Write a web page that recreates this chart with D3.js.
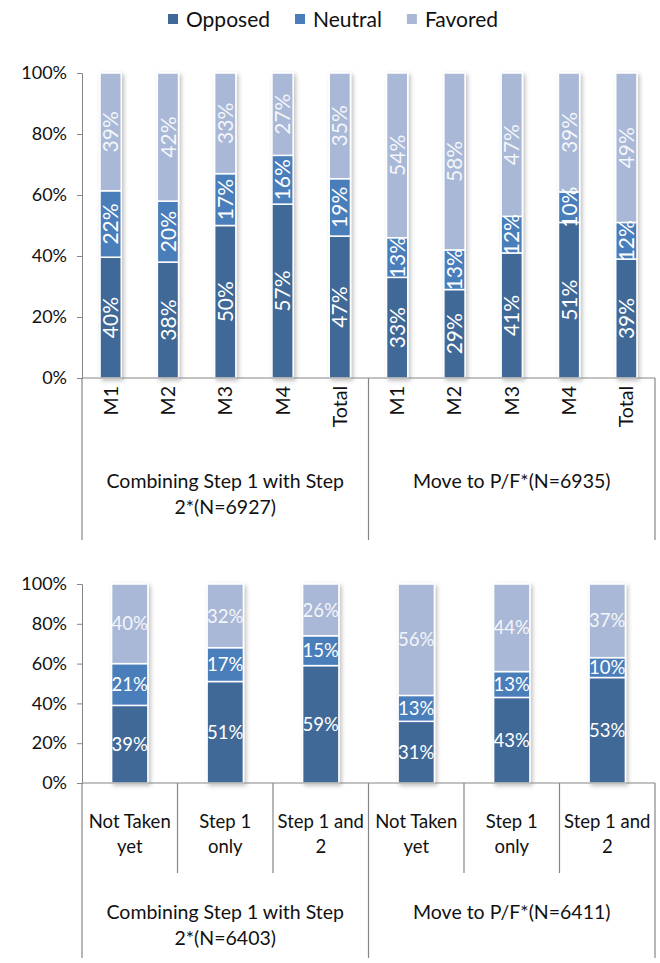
<!DOCTYPE html>
<html>
<head>
<meta charset="utf-8">
<script src="https://cdn.jsdelivr.net/npm/d3@7"></script>
<style>
  body { margin: 0; background: #fff; }
  svg { font-family: Lato, "Open Sans", sans-serif; }
</style>
</head>
<body>
<svg id="chart" width="660" height="963"></svg>
<script>
// series keys and colours
var keys = ["Opposed", "Neutral", "Favored"];
var colors = ["#416998", "#4a7ebb", "#a9b8d6"];
var labelColors = ["#ffffff", "#ffffff", "#f4f6fa"];

// top chart: by medical school year
var topGroups = [["Combining Step 1 with Step", "2*(N=6927)"], ["Move to P/F*(N=6935)"]];
var topCats = ["M1", "M2", "M3", "M4", "Total"];
var topOpposed = [40, 38, 50, 57, 47, 33, 29, 41, 51, 39];
var topNeutral = [22, 20, 17, 16, 19, 13, 13, 12, 10, 12];
var topFavored = [39, 42, 33, 27, 35, 54, 58, 47, 39, 49];

// bottom chart: by step status
var botGroups = [["Combining Step 1 with Step", "2*(N=6403)"], ["Move to P/F*(N=6411)"]];
var botCats = [["Not Taken", "yet"], ["Step 1", "only"], ["Step 1 and", "2"]];
var botOpposed = [39, 51, 59, 31, 43, 53];
var botNeutral = [21, 17, 15, 13, 13, 10];
var botFavored = [40, 32, 26, 56, 44, 37];

var yTicks = [0, 0.2, 0.4, 0.6, 0.8, 1];

var svg = d3.select("#chart");

// soft shadow like the Excel bars
var defs = svg.append("defs");
defs.append("filter").attr("id", "shadow")
    .attr("x", "-30%").attr("y", "-10%").attr("width", "160%").attr("height", "120%")
  .append("feDropShadow")
    .attr("dx", 2).attr("dy", 2).attr("stdDeviation", 2)
    .attr("flood-color", "#000").attr("flood-opacity", 0.25);

// legend
var legend = svg.append("g").attr("transform", "translate(168,0)");
var lx = 0;
keys.forEach(function(k, i) {
  legend.append("rect")
      .attr("x", lx).attr("y", 14).attr("width", 10).attr("height", 10)
      .attr("fill", colors[i]);
  var t = legend.append("text")
      .attr("x", lx + 18).attr("y", 27)
      .attr("font-size", 21).attr("fill", "#111")
      .text(k);
  lx += 18 + t.node().getComputedTextLength() + 25;
});

function drawChart(cfg) {
  var n = cfg.opposed.length;
  var rows = d3.range(n).map(function(i) {
    return {idx: i, Opposed: cfg.opposed[i], Neutral: cfg.neutral[i], Favored: cfg.favored[i]};
  });

  var x = d3.scaleBand().domain(d3.range(n)).range([cfg.left, cfg.right]);
  var y = d3.scaleLinear().domain([0, 1]).range([cfg.bottom, cfg.top]);
  var barW = x.bandwidth() * cfg.barRatio;

  var series = d3.stack().keys(keys).offset(d3.stackOffsetExpand)(rows);

  var g = svg.append("g");

  // y axis
  var yAxis = g.append("g")
      .attr("transform", "translate(" + cfg.left + ",0)")
      .call(d3.axisLeft(y).tickValues(yTicks).tickFormat(d3.format(".0%")).tickSize(5).tickPadding(10));
  yAxis.select(".domain").attr("stroke", "#868686");
  yAxis.selectAll(".tick line").attr("stroke", "#868686");
  yAxis.selectAll("text").attr("font-size", 18).attr("fill", "#111").attr("font-family", "Lato, sans-serif");

  // bars
  var layers = g.append("g").attr("filter", "url(#shadow)")
    .selectAll("g")
    .data(series)
    .enter().append("g")
      .attr("fill", function(d, i) { return colors[i]; });

  layers.selectAll("rect")
    .data(function(d) { return d; })
    .enter().append("rect")
      .attr("x", function(d) { return x(d.data.idx) + (x.bandwidth() - barW) / 2; })
      .attr("y", function(d) { return y(d[1]); })
      .attr("width", barW)
      .attr("height", function(d) { return y(d[0]) - y(d[1]); })
      .attr("stroke", "#fff")
      .attr("stroke-width", 1.5);

  // value labels
  series.forEach(function(s, si) {
    g.append("g").selectAll("text")
      .data(s)
      .enter().append("text")
        .attr("transform", function(d) {
          var cx = x(d.data.idx) + x.bandwidth() / 2;
          var cy = (y(d[0]) + y(d[1])) / 2;
          return "translate(" + cx + "," + cy + ")" + (cfg.rotate ? " rotate(-90)" : "");
        })
        .attr("text-anchor", "middle")
        .attr("dy", "0.36em")
        .attr("font-size", cfg.valueSize)
        .attr("fill", labelColors[si])
        .text(function(d) { return d.data[s.key] + "%"; });
  });

  // x axis line and group dividers
  var lines = g.append("g").attr("stroke", "#868686").attr("stroke-width", 1.2);
  lines.append("line")
      .attr("x1", cfg.left).attr("x2", cfg.right)
      .attr("y1", cfg.bottom).attr("y2", cfg.bottom);
  var per = n / cfg.groups.length;
  d3.range(cfg.groups.length + 1).forEach(function(k) {
    var gx = k === cfg.groups.length ? cfg.right : x(k * per);
    lines.append("line")
        .attr("x1", gx).attr("x2", gx)
        .attr("y1", cfg.bottom).attr("y2", cfg.groupLineEnd);
  });
  if (cfg.catLineEnd) {
    d3.range(n).forEach(function(i) {
      if (i % per === 0) return;
      lines.append("line")
          .attr("x1", x(i)).attr("x2", x(i))
          .attr("y1", cfg.bottom).attr("y2", cfg.catLineEnd);
    });
  }

  // category labels
  var catG = g.append("g").attr("font-size", cfg.catSize).attr("fill", "#111");
  d3.range(n).forEach(function(i) {
    var cat = cfg.cats[i % per];
    var cx = x(i) + x.bandwidth() / 2;
    if (cfg.rotate) {
      catG.append("text")
          .attr("transform", "translate(" + cx + "," + (cfg.bottom + 8) + ") rotate(-90)")
          .attr("text-anchor", "end")
          .attr("dy", "0.36em")
          .text(cat);
    } else {
      var t = catG.append("text").attr("text-anchor", "middle");
      cat.forEach(function(line, li) {
        t.append("tspan").attr("x", cx).attr("y", cfg.catY + li * 25).text(line);
      });
    }
  });

  // group labels
  cfg.groups.forEach(function(lbl, k) {
    var cx = (x(k * per) + (k + 1 === cfg.groups.length ? cfg.right : x((k + 1) * per))) / 2;
    var t = g.append("text")
        .attr("text-anchor", "middle")
        .attr("font-size", cfg.groupSize)
        .attr("fill", "#111");
    lbl.forEach(function(line, li) {
      t.append("tspan").attr("x", cx).attr("y", cfg.groupY + li * 26).text(line);
    });
  });
}

drawChart({
  left: 82, right: 655, top: 73, bottom: 378,
  opposed: topOpposed, neutral: topNeutral, favored: topFavored,
  cats: topCats, groups: topGroups,
  barRatio: 0.37, rotate: true, valueSize: 21, catSize: 19.5,
  groupY: 488, groupSize: 19.5, groupLineEnd: 540
});

drawChart({
  left: 82, right: 655, top: 584, bottom: 783,
  opposed: botOpposed, neutral: botNeutral, favored: botFavored,
  cats: botCats, groups: botGroups,
  barRatio: 0.38, rotate: false, valueSize: 18.5, catSize: 18.5, catY: 828,
  catLineEnd: 873, groupY: 919, groupSize: 19.5, groupLineEnd: 958
});
</script>
</body>
</html>
